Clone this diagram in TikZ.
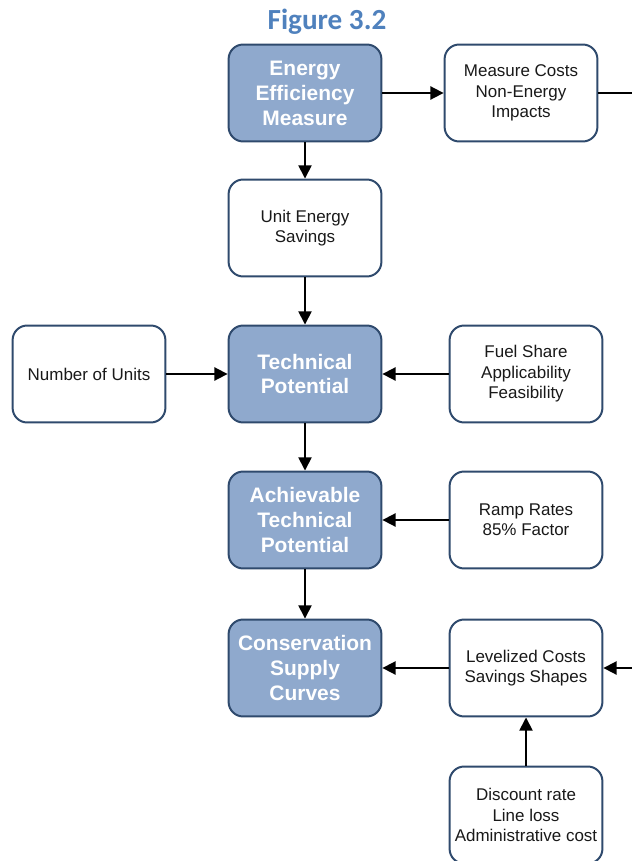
\documentclass[tikz,border=0pt]{standalone}
\usepackage{fontspec}
\setmainfont{Liberation Sans}
\newfontfamily\titlefont{Carlito}
\usetikzlibrary{arrows.meta}
\usetikzlibrary{positioning}

\definecolor{boxblue}{HTML}{8FA9CD}
\definecolor{boxline}{HTML}{2F4A6D}
\definecolor{titleblue}{HTML}{4F81BD}

\tikzset{
  stagebox/.style={draw=boxline,line width=1.5pt,rounded corners=11pt,fill=boxblue,
    minimum width=4.05cm,minimum height=2.57cm,align=center,text=white,
    font=\fontsize{15.8}{18.8}\selectfont\bfseries},
  inputbox/.style={draw=boxline,line width=1.5pt,rounded corners=11pt,fill=white,
    minimum width=4.05cm,minimum height=2.57cm,align=center,text=black!90,
    font=\fontsize{12.8}{15.4}\selectfont},
  flow/.style={line width=1.3pt,-{Triangle[length=10pt,width=10pt]}}
}

\begin{document}
\begin{tikzpicture}[x=0.0265cm,y=-0.0265cm]
  \useasboundingbox (0,0) rectangle (632,861);
  \node (title) at (327,22)[text=titleblue,font=\titlefont\fontsize{22}{24}\selectfont\bfseries]{Figure 3.2};

  \node[stagebox] (eem) at (305,93){Energy\\Efficiency\\Measure};
  \node[inputbox] (cost) at (521,93){Measure Costs\\Non-Energy\\Impacts};
  \node[inputbox] (ues) at (305,228){Unit Energy\\Savings};

  \node[stagebox] (tech) at (305,374){Technical\\Potential};
  \node[inputbox] (units) at (89,374){Number of Units};
  \node[inputbox] (fuel) at (526,374){Fuel Share\\Applicability\\Feasibility};

  \node[stagebox] (ach) at (305,520){Achievable\\Technical\\Potential};
  \node[inputbox] (ramp) at (526,520){Ramp Rates\\85\% Factor};

  \node[stagebox] (csc) at (305,668){Conservation\\Supply\\Curves};
  \node[inputbox] (lev) at (526,668){Levelized Costs\\Savings Shapes};
  \node[inputbox] (disc) at (526,815){Discount rate\\Line loss\\Administrative cost};

  % return path runs down past the right edge
  \coordinate (outtop) at (660,93);
  \coordinate (outbot) at (660,668);

  \draw[flow](eem)--(cost);
  \draw[flow](eem)--(ues);
  \draw[flow](ues)--(tech);
  \draw[flow](units)--(tech);
  \draw[flow](fuel)--(tech);
  \draw[flow](tech)--(ach);
  \draw[flow](ramp)--(ach);
  \draw[flow](ach)--(csc);
  \draw[flow](lev)--(csc);
  \draw[flow](disc)--(lev);
  \draw[flow](cost.east)--(outtop)--(outbot)--(lev.east);
\end{tikzpicture}
\end{document}
